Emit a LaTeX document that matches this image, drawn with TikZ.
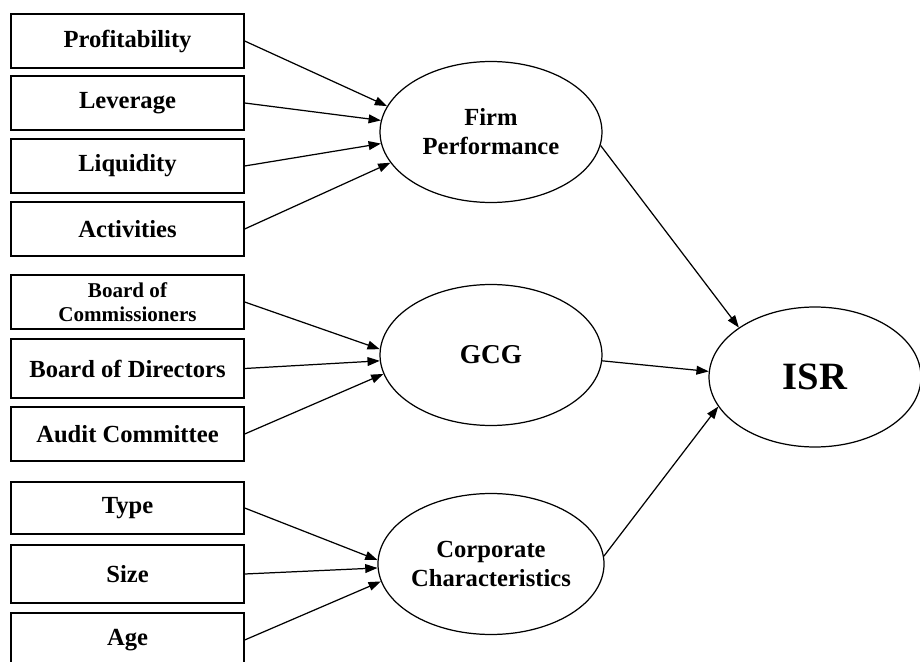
\documentclass[tikz,border=0pt]{standalone}
\usepackage{fontspec}
\setmainfont{Liberation Serif}
\usetikzlibrary{shapes.geometric,arrows.meta}

\begin{document}
\begin{tikzpicture}[x=0.02cm,y=-0.02cm,>={Triangle[length=7pt,width=5pt]},
		indicator/.style={draw,line width=0.8pt,minimum width=4.66cm,minimum height=1.08cm,inner sep=0pt,align=center,font=\fontsize{14}{16}\selectfont\bfseries},
		construct/.style={draw,ellipse,line width=0.7pt,minimum width=4.44cm,minimum height=2.82cm,inner sep=0pt,align=center,font=\fontsize{14}{16.5}\selectfont\bfseries},
		path/.style={->,line width=0.7pt}]
			\useasboundingbox (0,0) rectangle (920,662);
			% indicators
			\node[indicator] (prof) at (127.5,41) {Profitability};
			\node[indicator] (lev) at (127.5,103) {Leverage};
			\node[indicator] (liq) at (127.5,166) {Liquidity};
			\node[indicator] (act) at (127.5,229) {Activities};
			\node[indicator,font=\fontsize{12}{14}\selectfont\bfseries] (boc) at (127.5,302) {Board of\\Commissioners};
			\node[indicator,minimum height=1.18cm] (bod) at (127.5,368.5) {Board of Directors};
			\node[indicator] (aud) at (127.5,434) {Audit Committee};
			\node[indicator,minimum height=1.04cm] (type) at (127.5,508) {Type};
			\node[indicator,minimum height=1.16cm] (size) at (127.5,574) {Size};
			\node[indicator] (age) at (127.5,640) {Age};
			% constructs
			\node[construct] (firm) at (491,132) {Firm\\Performance};
			\node[construct] (gcg) at (491,355) {\fontsize{15.5}{18}\selectfont GCG};
			\node[construct,font=\fontsize{14}{16}\selectfont\bfseries] (corp) at (491,564) {Corporate\\Characteristics};
			\node[construct,minimum width=4.24cm,minimum height=2.8cm,font=\fontsize{22}{26}\selectfont\bfseries] (isr) at (815,377) {ISR};
			% paths
			\draw[path] (prof.east) -- (firm.166);
			\draw[path] (lev.east) -- (firm.174);
			\draw[path] (liq.east) -- (firm.186);
			\draw[path] (act.east) -- (firm.197);
			\draw[path] (boc.east) -- (gcg.177);
			\draw[path] (bod.east) -- (gcg.183);
			\draw[path] (aud.east) -- (gcg.190);
			\draw[path] (type.east) -- (corp.178);
			\draw[path] (size.east) -- (corp.182);
			\draw[path] (age.east) -- (corp.189);
			\draw[path] (firm.-7) -- (isr.147);
			\draw[path] (gcg.-3) -- (isr.177);
			\draw[path] (corp.4) -- (isr.197);
		\end{tikzpicture}
\end{document}
